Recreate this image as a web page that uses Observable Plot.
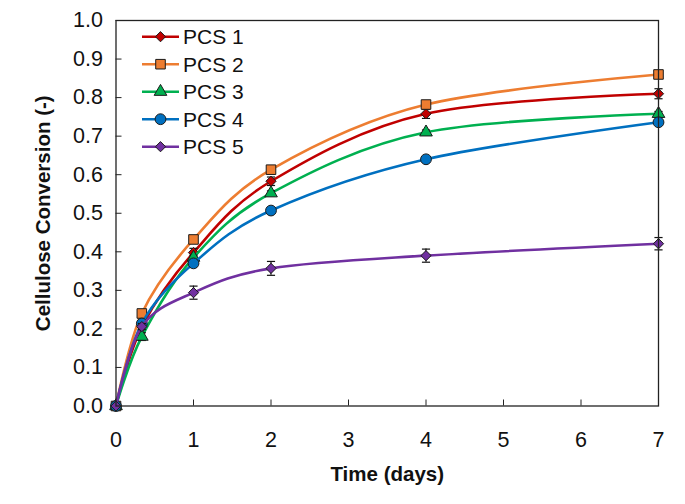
<!DOCTYPE html>
<html><head><meta charset="utf-8">
<script src="https://cdn.jsdelivr.net/npm/d3@7"></script>
<script src="https://cdn.jsdelivr.net/npm/@observablehq/plot@0.6"></script>
<style>
body{margin:0;background:#fff;}
#chart svg{font-family:"Liberation Sans",Arial,sans-serif;}
</style>
</head><body><div id="chart"></div>
<script>
// ---- data ----
const times = [0, 1/3, 1, 2, 4, 7];
const seriesNames = ["PCS 1", "PCS 2", "PCS 3", "PCS 4", "PCS 5"];
const pcs1 = [0.000, 0.205, 0.398, 0.583, 0.758, 0.810];
const pcs2 = [0.000, 0.240, 0.432, 0.613, 0.782, 0.860];
const pcs3 = [0.000, 0.180, 0.385, 0.552, 0.710, 0.758];
const pcs4 = [0.000, 0.214, 0.370, 0.507, 0.640, 0.736];
const pcs5 = [0.000, 0.206, 0.294, 0.357, 0.390, 0.421];
const err1 = [0.000, 0.008, 0.011, 0.011, 0.012, 0.013];
const err2 = [0.000, 0.005, 0.005, 0.005, 0.006, 0.006];
const err3 = [0.000, 0.010, 0.006, 0.006, 0.006, 0.006];
const err4 = [0.000, 0.005, 0.005, 0.005, 0.005, 0.005];
const err5 = [0.000, 0.008, 0.017, 0.018, 0.017, 0.016];
const xTicks = [0, 1, 2, 3, 4, 5, 6, 7];
const yTicks = [0, 0.1, 0.2, 0.3, 0.4, 0.5, 0.6, 0.7, 0.8, 0.9, 1.0];
const xTitle = "Time (days)";
const yTitle = "Cellulose Conversion (-)";

// ---- styles ----
const colors = ["#C00000", "#ED7D31", "#00B050", "#0070C0", "#7030A0"];
const symbols = ["diamond2", "square", "triangle", "circle", "diamond2"];
const radii = [4.6, 5.4, 4.7, 5.4, 4.6];

const valueSets = [pcs1, pcs2, pcs3, pcs4, pcs5];
const errSets = [err1, err2, err3, err4, err5];
const series = seriesNames.map((name, s) => times.map((t, i) => ({
  name, t, v: valueSets[s][i], lo: valueSets[s][i] - errSets[s][i], hi: valueSets[s][i] + errSets[s][i]
})));

const capSymbol = { draw(ctx, size) { const w = Math.sqrt(size); ctx.moveTo(-w, 0); ctx.lineTo(w, 0); } };

const marks = [];
series.forEach((data, s) => {
  marks.push(Plot.line(data, {x: "t", y: "v", stroke: colors[s], strokeWidth: 2.6, curve: "cardinal", tension: 0}));
  const withErr = data.filter(d => d.hi - d.lo > 0);
  marks.push(Plot.ruleX(withErr, {x: "t", y1: "lo", y2: "hi", stroke: "#111", strokeWidth: 1.2}));
  marks.push(Plot.dot(withErr, {x: "t", y: "lo", symbol: capSymbol, r: 2.3, stroke: "#111", strokeWidth: 1.2}));
  marks.push(Plot.dot(withErr, {x: "t", y: "hi", symbol: capSymbol, r: 2.3, stroke: "#111", strokeWidth: 1.2}));
  marks.push(Plot.dot(data, {x: "t", y: "v", symbol: symbols[s], r: radii[s], fill: colors[s], stroke: "#1a1a1a", strokeWidth: 1}));
});

const chart = Plot.plot({
  width: 685,
  height: 504,
  marginLeft: 115.5,
  marginRight: 27,
  marginTop: 20,
  marginBottom: 98.5,
  style: {fontFamily: "Liberation Sans, Arial, sans-serif", fontSize: "21px", color: "#111", background: "#fff"},
  x: {domain: [0, 7]},
  y: {domain: [0, 1]},
  marks: [
    Plot.axisX({ticks: xTicks, tickFormat: d => d.toFixed(0), tickSize: -6, tickPadding: 32, label: null, fontSize: 21.5, stroke: "#222"}),
    Plot.axisY({ticks: yTicks, tickFormat: d => d.toFixed(1), tickSize: -6, tickPadding: 19, label: null, fontSize: 21.5, stroke: "#222"}),
    ...marks,
    Plot.frame({stroke: "#222", strokeWidth: 1.3}),
    Plot.text([xTitle], {frameAnchor: "bottom", dy: 75, textAnchor: "middle", fontWeight: "bold", fontSize: 20.5, fill: "#111"}),
    Plot.text([yTitle], {frameAnchor: "left", dx: -73, rotate: -90, textAnchor: "middle", fontWeight: "bold", fontSize: 20.5, fill: "#111"})
  ]
});
document.getElementById("chart").appendChild(chart);

// ---- legend (inside plot area, top-left) ----
const svg = d3.select(chart);
const lg = svg.append("g").attr("class", "legend").attr("text-anchor", "start");
const symbolMap = {diamond2: d3.symbolDiamond2, square: d3.symbolSquare, triangle: d3.symbolTriangle, circle: d3.symbolCircle};
seriesNames.forEach((name, s) => {
  const y = 36.7 + s * 27.5;
  const g = lg.append("g").attr("transform", `translate(0,${y})`);
  g.append("line").attr("x1", 142).attr("x2", 179).attr("y1", 0).attr("y2", 0)
    .attr("stroke", colors[s]).attr("stroke-width", 2.6);
  g.append("path").attr("transform", "translate(160.5,0)")
    .attr("d", d3.symbol(symbolMap[symbols[s]], Math.PI * radii[s] * radii[s])())
    .attr("fill", colors[s]).attr("stroke", "#1a1a1a").attr("stroke-width", 1);
  g.append("text").attr("x", 183).attr("y", 0).attr("dy", "0.35em").attr("text-anchor", "start")
    .attr("font-size", 21).attr("fill", "#111").text(name);
});
</script>
</body></html>
